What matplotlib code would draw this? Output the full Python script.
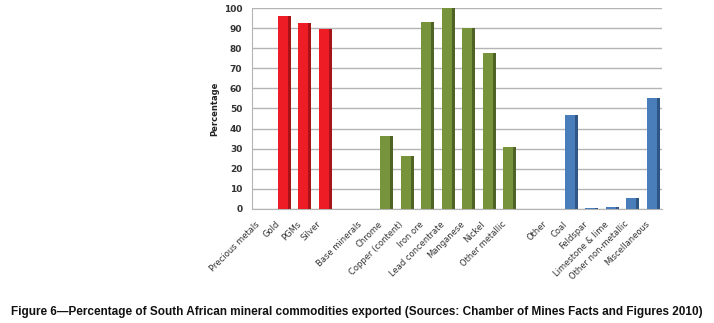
import matplotlib
matplotlib.use("Agg")
import matplotlib.pyplot as plt
import matplotlib.transforms as mtransforms
import numpy as np

categories = ["Precious metals", "Gold", "PGMs", "Silver", "", "Base minerals", "Chrome",
              "Copper (content)", "Iron ore", "Lead concentrate", "Manganese", "Nickel",
              "Other metallic", "", "Other", "Coal", "Feldspar", "Limestone & lime",
              "Other non-metallic", "Miscellaneous"]
values = [0, 96, 92.5, 89.5, 0, 0, 36.5, 26.5, 93, 100, 90, 77.5, 31, 0, 0, 47, 0.5, 1, 5.5, 55]
groups = ["p", "p", "p", "p", "", "b", "b", "b", "b", "b", "b", "b", "b", "", "o", "o", "o", "o", "o", "o"]
yticks = [0, 10, 20, 30, 40, 50, 60, 70, 80, 90, 100]

face = {"p": "#ee1c25", "b": "#77933c", "o": "#4a7ebb", "": "#ffffff"}
side = {"p": "#a81219", "b": "#4f6327", "o": "#2f5584", "": "#ffffff"}

fig = plt.figure(figsize=(7.14, 3.23), dpi=100)
ax = fig.add_axes([252 / 714, 1 - 209 / 323, 410 / 714, 201 / 323])

x = np.arange(len(categories))
w = 0.5
for xi, v, g in zip(x, values, groups):
    if v <= 0:
        continue
    ax.bar(xi + 0.13, v, width=w, color=side[g], zorder=2, linewidth=0)
    ax.bar(xi, v, width=w, color=face[g], zorder=3, linewidth=0)

ax.set_xlim(-0.5, len(categories) - 0.5)
ax.set_ylim(0, 100)
ax.set_yticks(yticks)
ax.set_yticklabels([str(t) for t in yticks], fontsize=6.5, fontweight="bold", color="#333333")
ax.yaxis.grid(True, color="#b4b4b4", linewidth=1.0, zorder=0)
ax.set_axisbelow(True)
ax.tick_params(axis="y", length=0, pad=7)
ax.tick_params(axis="x", length=0, pad=4)
ax.set_xticks(x)
ax.set_xticklabels(categories, rotation=45, ha="right", rotation_mode="anchor",
                   fontsize=6, color="#333333")
offset = mtransforms.ScaledTranslation(-7 / 100, -5 / 100, fig.dpi_scale_trans)
for lab in ax.get_xticklabels():
    lab.set_transform(lab.get_transform() + offset)

for s in ["top", "right"]:
    ax.spines[s].set_visible(False)
ax.spines["left"].set_color("#b4b4b4")
ax.spines["bottom"].set_color("#b4b4b4")

ax.set_ylabel("Percentage", fontsize=6, fontweight="bold", color="#222222", labelpad=3)

fig.text(0.5, 1 - 312 / 323, "Figure 6\u2014Percentage of South African mineral commodities exported (Sources: Chamber of Mines Facts and Figures 2010)",
         ha="center", va="center", fontsize=8.5, fontweight="bold",
         family=["Liberation Sans", "DejaVu Sans"], color="#111111")

fig.savefig("out.png", dpi=100, facecolor="white")
